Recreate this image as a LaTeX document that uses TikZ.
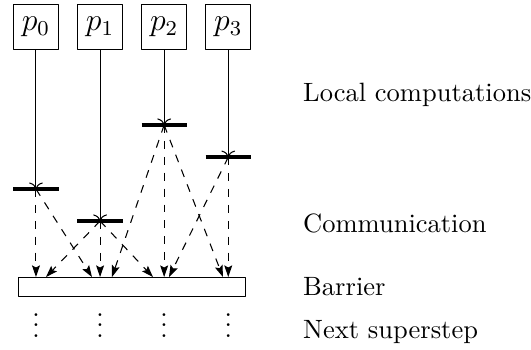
\documentclass[tikz,border=0pt]{standalone}
\usetikzlibrary{arrows.meta}
\begin{document}
\begin{tikzpicture}[line join=round,
	proc/.style={draw, minimum size=6mm, inner sep=0pt, font=\large},
	bar/.style={ultra thick},
	msg/.style={dashed, -{Stealth[length=4.4pt,width=3pt,inset=0.8pt]}},
	lbl/.style={anchor=base west}]
	\useasboundingbox (-0.477,-0.955) rectangle (6.565,3.674);

	% processors
	\node[proc] (p0) at (0,3.313) {$p_0$};
	\node[proc] (p1) at (0.85,3.313) {$p_1$};
	\node[proc] (p2) at (1.70,3.313) {$p_2$};
	\node[proc] (p3) at (2.55,3.313) {$p_3$};

	% end of local computations
	\coordinate (s0) at (0,1.167);
	\coordinate (s1) at (0.85,0.743);
	\coordinate (s2) at (1.70,2.016);
	\coordinate (s3) at (2.55,1.59);
	\draw[->] (p0) -- (s0);
	\draw[->] (p1) -- (s1);
	\draw[->] (p2) -- (s2);
	\draw[->] (p3) -- (s3);
	\draw[bar] ([xshift=-3mm]s0) -- ([xshift=3mm]s0);
	\draw[bar] ([xshift=-3mm]s1) -- ([xshift=3mm]s1);
	\draw[bar] ([xshift=-3mm]s2) -- ([xshift=3mm]s2);
	\draw[bar] ([xshift=-3mm]s3) -- ([xshift=3mm]s3);

	% barrier
	\node[draw, minimum width=3.02cm, minimum height=0.252cm, inner sep=0pt] (barrier) at (1.275,-0.126) {};

	% communication
	\coordinate (m00) at (0,0);
	\coordinate (m01) at (0.743,0);
	\coordinate (m10) at (0.133,0);
	\coordinate (m11) at (0.85,0);
	\coordinate (m12) at (1.552,0);
	\coordinate (m21) at (1.008,0);
	\coordinate (m22) at (1.70,0);
	\coordinate (m23) at (2.48,0);
	\coordinate (m32) at (1.764,0);
	\coordinate (m33) at (2.55,0);
	\draw[msg] (s0) -- (m00);
	\draw[msg] (s0) -- (m01);
	\draw[msg] (s1) -- (m10);
	\draw[msg] (s1) -- (m11);
	\draw[msg] (s1) -- (m12);
	\draw[msg] (s2) -- (m21);
	\draw[msg] (s2) -- (m22);
	\draw[msg] (s2) -- (m23);
	\draw[msg] (s3) -- (m32);
	\draw[msg] (s3) -- (m33);

	% next superstep
	\node[anchor=base] (d0) at (0,-0.80) {$\vdots$};
	\node[anchor=base] (d1) at (0.85,-0.80) {$\vdots$};
	\node[anchor=base] (d2) at (1.70,-0.80) {$\vdots$};
	\node[anchor=base] (d3) at (2.55,-0.80) {$\vdots$};

	% phases
	\node[lbl] (local) at (3.42,2.334) {Local computations};
	\node[lbl] (comm) at (3.42,0.597) {Communication};
	\node[lbl] (sync) at (3.42,-0.245) {Barrier};
	\node[lbl] (next) at (3.42,-0.809) {Next superstep};
\end{tikzpicture}
\end{document}
